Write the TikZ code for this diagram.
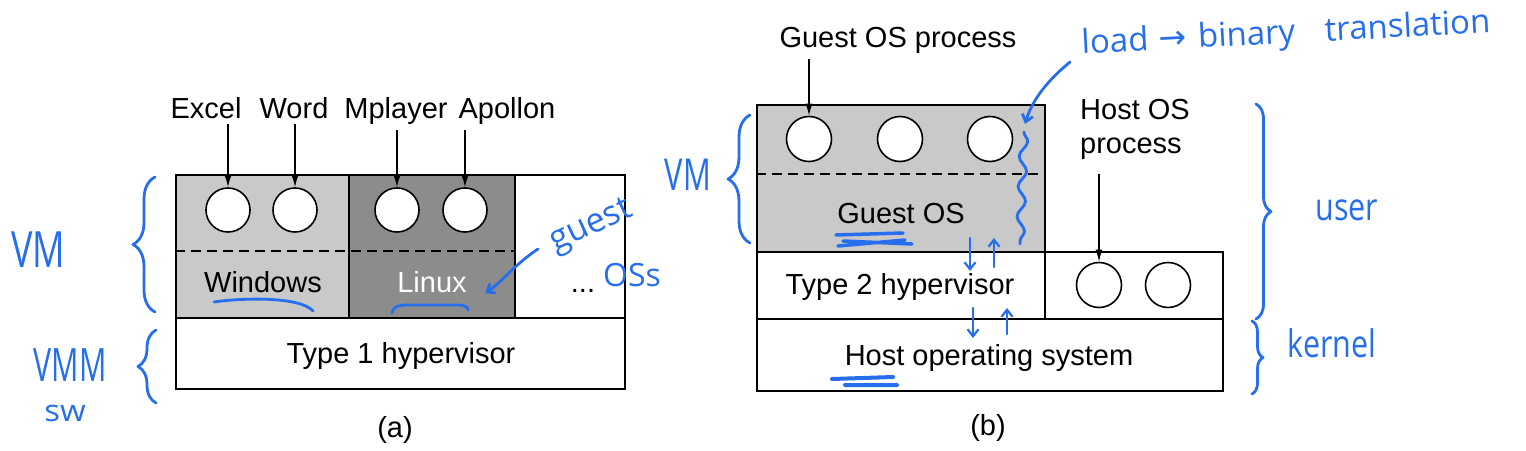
\documentclass[tikz,border=0pt]{standalone}
\usepackage{fontspec}
\setmainfont{Liberation Sans}
\newfontfamily\hand{Open Sans}
\newfontfamily\symb{DejaVu Sans}
\usetikzlibrary{arrows.meta,decorations.pathreplacing,decorations.pathmorphing}
\definecolor{pen}{RGB}{38,110,236}
\definecolor{lightg}{gray}{0.79}
\definecolor{darkg}{gray}{0.55}
\begin{document}
\begin{tikzpicture}[x=1pt,y=-1pt,
  box/.style={draw, line width=1.7pt, inner sep=0pt, anchor=north west},
  proc/.style={draw, circle, line width=1.6pt, fill=white, minimum size=44pt, inner sep=0pt},
  lbl/.style={font=\fontsize{29}{34}\selectfont, inner sep=0pt},
  arr/.style={line width=1.3pt, -{Latex[length=12pt,width=7pt]}},
  sep/.style={line width=1.6pt, dash pattern=on 10pt off 6pt},
  ink/.style={pen, line width=2.8pt, line cap=round, line join=round},
  inkarr/.style={ink, -{Straight Barb[length=7pt,width=11pt]}},
  hw/.style={pen, inner sep=0pt, transform shape},
  lbrace/.style={ink, decorate, decoration={brace, amplitude=#1}},
]
\useasboundingbox (0,0) rectangle (1526,450);

% ---------------- (a) ----------------
\node[box, fill=lightg, minimum width=173pt, minimum height=143pt] (win) at (175,174) {};
\node[box, fill=darkg, minimum width=166pt, minimum height=143pt] (lin) at (348,174) {};
\node[box, minimum width=110pt, minimum height=143pt] (more) at (514,174) {};
\node[box, minimum width=449pt, minimum height=71pt] (hypa) at (175,317) {};
\coordinate (da) at (175,251);
\coordinate (db) at (514,251);
\draw[sep] (da) -- (db);

\node[proc] (a1) at (228,210) {};
\node[proc] (a2) at (295,210) {};
\node[proc] (a3) at (397,210) {};
\node[proc] (a4) at (465,210) {};

\node[lbl, anchor=base] (excel) at (206,118) {Excel};
\node[lbl, anchor=base] (word) at (294,118) {Word};
\node[lbl, anchor=base] (mplayer) at (396,118) {Mplayer};
\node[lbl, anchor=base] (apollon) at (507,118) {Apollon};
\draw[arr] (a1.north |- excel.south) ++(0,6) -- (a1.north);
\draw[arr] (a2.north |- word.south) ++(0,6) -- (a2.north);
\draw[arr] (a3.north |- mplayer.south) ++(0,6) -- (a3.north);
\draw[arr] (a4.north |- apollon.south) ++(0,6) -- (a4.north);

\node[lbl, anchor=base] (wintxt) at (263,292) {Windows};
\node[lbl, anchor=base, text=white] (lintxt) at (432,292) {Linux};
\node[lbl, anchor=base] (dots) at (583,292) {...};
\node[lbl, anchor=base] (t1) at (401,363) {Type 1 hypervisor};
\node[lbl] (capa) at (395,430) {(a)};

% ---------------- (b) ----------------
\node[box, fill=lightg, minimum width=288pt, minimum height=147pt] (guest) at (756,104) {};
\node[box, minimum width=288pt, minimum height=67pt] (hypb) at (756,251) {};
\node[box, minimum width=178pt, minimum height=67pt] (hproc) at (1044,251) {};
\node[box, minimum width=466pt, minimum height=72pt] (hos) at (756,318) {};
\coordinate (dc) at (756,174);
\coordinate (dd) at (1044,174);
\draw[sep] (dc) -- (dd);

\node[proc, minimum size=45pt] (g1) at (809,139) {};
\node[proc, minimum size=45pt] (g2) at (900,139) {};
\node[proc, minimum size=45pt] (g3) at (990,139) {};
\node[proc, minimum size=45pt] (h1) at (1099,285) {};
\node[proc, minimum size=45pt] (h2) at (1168,285) {};

\node[lbl, anchor=base] (gplbl) at (898,47) {Guest OS process};
\node[lbl, anchor=north west, align=left] (hplbl) at (1080,99) {Host OS\\process};
\draw[arr] (g1.north |- gplbl.south) ++(0,6) -- (g1.north);
\draw[arr] (h1.north |- hplbl.south) ++(0,14) -- (h1.north);

\node[lbl, anchor=base] (gostxt) at (901,223) {Guest OS};
\node[lbl, anchor=base] (t2) at (900,294) {Type 2 hypervisor};
\node[lbl, anchor=base] (hostxt) at (989,365) {Host operating system};
\node[lbl] (capb) at (988,428) {(b)};

% ---------------- handwritten annotations ----------------
\node[hw, font=\hand\fontsize{50}{54}\selectfont, xscale=0.72] (vma) at (38,250) {VM};
\node[hw, font=\hand\fontsize{46}{50}\selectfont, xscale=0.66] (vmm) at (70,365) {VMM};
\node[hw, font=\hand\fontsize{30}{34}\selectfont, xscale=1.1] (sw) at (65,413) {sw};
\draw[lbrace=22pt] (155,312) -- (155,177);
\draw[lbrace=18pt] (156,403) -- (156,330);

\draw[ink] (214,302) .. controls (240,298) and (300,296) .. (313,311);
\draw[ink] (392,313) .. controls (394,304) and (402,305) .. (420,305) -- (458,305) .. controls (466,305) and (468,308) .. (468,310);

\node[hw, font=\hand\fontsize{34}{38}\selectfont, rotate=25] (guestw) at (592,227) {guest};
\node[hw, font=\hand\fontsize{32}{36}\selectfont] (oss) at (632,275) {OSs};
\draw[inkarr] (538,249) .. controls (515,264) and (500,284) .. (485,293);

\node[hw, font=\hand\fontsize{44}{48}\selectfont, xscale=0.7] (vmb) at (688,175) {VM};
\draw[lbrace=22pt] (750,243) -- (750,115);

\node[hw, font=\hand\fontsize{33}{37}\selectfont, rotate=3, anchor=base west] (note) at (1082,54) {load\,\,{\symb →}\,\,binary\hspace{0.9em}translation};
\draw[inkarr] (1070,62) .. controls (1048,80) and (1032,100) .. (1025,124);
\draw[ink, decorate, decoration={snake, amplitude=4pt, segment length=30pt}] (1024,132) -- (1020,244);

\draw[ink, line width=3.5pt] (836,235) -- (903,233) (843,241) -- (912,244) (838,246) -- (905,240);
\draw[ink, line width=4pt] (832,379) -- (893,377) (845,385) -- (897,385);

\draw[inkarr, line width=2.2pt] (970,238) -- (970,271);
\draw[inkarr, line width=2.2pt] (994,267) -- (994,238);
\draw[inkarr, line width=2.2pt] (973,308) -- (973,338);
\draw[inkarr, line width=2.2pt] (1007,334) -- (1007,308);

\draw[lbrace=15pt] (1256,104) -- (1256,319);
\draw[lbrace=11pt] (1252,321) -- (1252,394);
\node[hw, font=\hand\fontsize{38}{42}\selectfont, xscale=0.8] (user) at (1347,210) {user};
\node[hw, font=\hand\fontsize{38}{42}\selectfont, xscale=0.8] (kern) at (1332,343) {kernel};
\end{tikzpicture}
\end{document}
